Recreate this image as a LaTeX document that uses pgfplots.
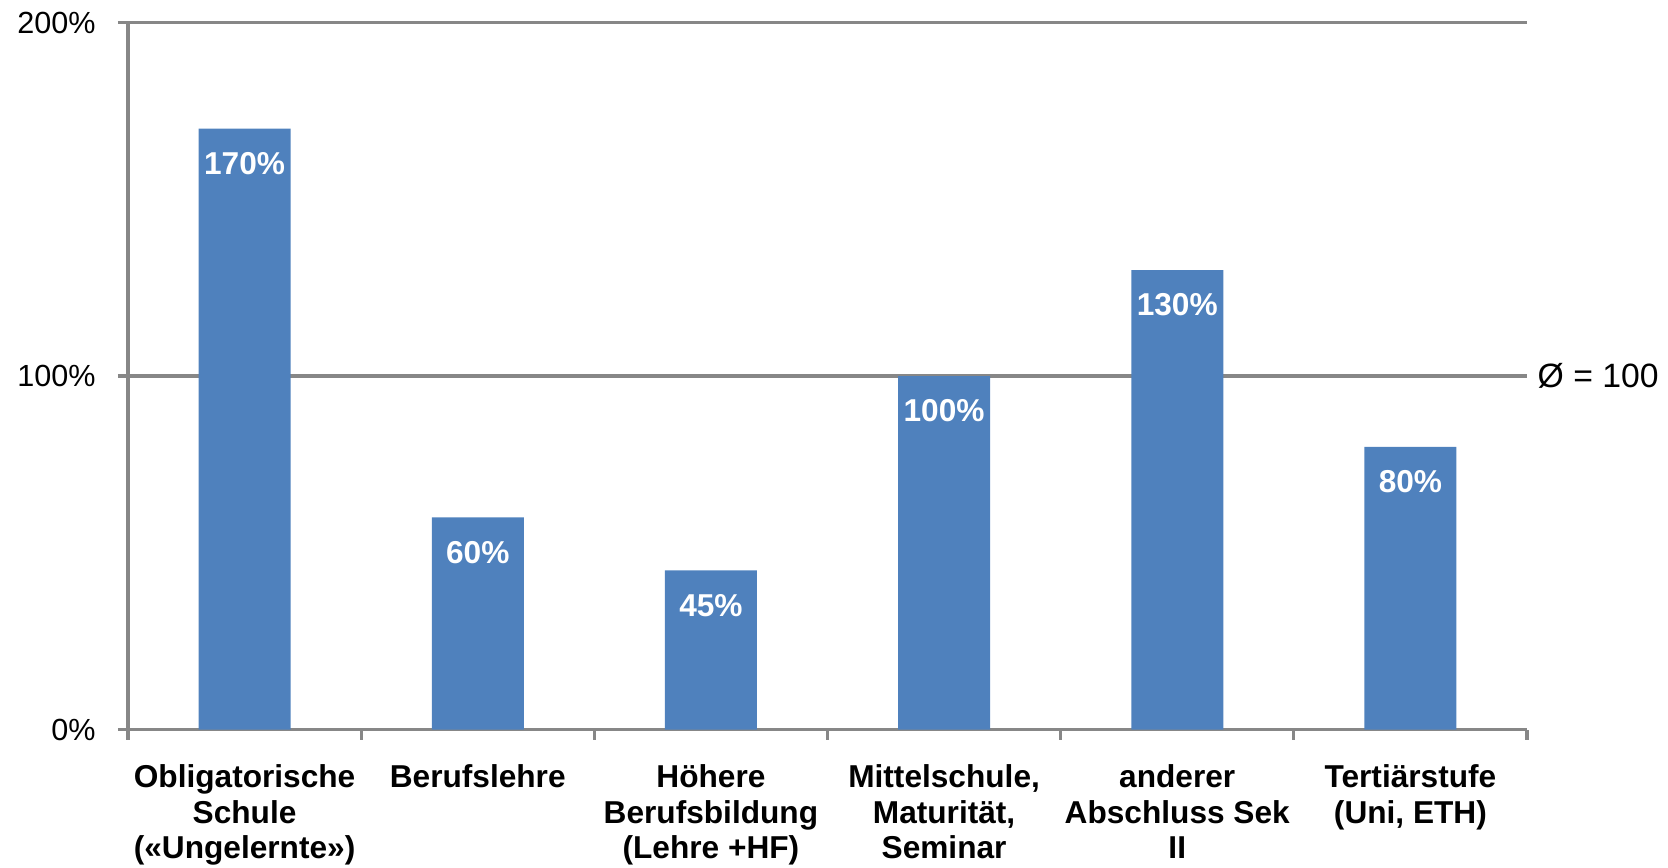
\documentclass[border=0pt]{standalone}
\usepackage{fontspec}
\setmainfont{Liberation Sans}
\usepackage{pgfplots}
\pgfplotsset{compat=1.18}
\definecolor{barblue}{HTML}{4F81BD}
\definecolor{axgray}{HTML}{878787}

\begin{document}
\begin{tikzpicture}
\begin{axis}[
    name=ax,
    scale only axis,
    width=13.99cm, height=7.07cm,
    ybar, bar width=0.92cm,
    xmin=-0.5, xmax=5.5, ymin=0, ymax=200,
    clip=false,
    axis x line*=bottom, axis y line*=left,
    axis line style={axgray, line width=0.9pt, -},
    % tick marks between the categories, names at the centres
    xtick={-0.5,0.5,...,5.5},
    xticklabels={},
    extra x ticks={0,1,2,3,4,5},
    extra x tick labels={{Obligatorische\\Schule\\(«Ungelernte»)}, Berufslehre,
        {Höhere\\Berufsbildung\\(Lehre +HF)}, {Mittelschule,\\Maturität,\\Seminar},
        {anderer\\Abschluss Sek\\II}, {Tertiärstufe\\(Uni, ETH)}},
    extra x tick style={tick style={draw=none},
        xticklabel style={inner sep=0pt, yshift=-0.245cm}},
    ytick={0,100,200},
    yticklabel={\pgfmathprintnumber{\tick}\%},
    xtick align=outside, ytick align=outside,
    major tick length=0.1cm,
    tick style={axgray, line width=0.9pt},
    ytick style={axgray, line width=0.9pt},
    ymajorgrids, grid style={axgray, line width=0.9pt},
    xticklabel style={align=center, font=\bfseries\fontsize{9}{10.1}\selectfont},
    yticklabel style={font=\fontsize{8.7}{10}\selectfont, xshift=-0.1cm,
        /pgf/number format/assume math mode=true},
    nodes near coords={\pgfmathprintnumber{\pgfplotspointmeta}\%},
    every node near coord/.append style={font=\bfseries\fontsize{9}{10}\selectfont,
        text=white, anchor=center, yshift=-0.35cm,
        /pgf/number format/assume math mode=true},
]
\addplot[fill=barblue, draw=none] coordinates {
    (0,170) (1,60) (2,45) (3,100) (4,130) (5,80)
};
\node[anchor=west, inner sep=0pt, font=\fontsize{9.6}{11}\selectfont]
    at (axis cs:5.5,100) [xshift=0.1cm] {Ø = 100};
\end{axis}
\path ([shift={(-1.28cm,-1.38cm)}]ax.south west) rectangle ([shift={(1.41cm,0.22cm)}]ax.north east);
\end{tikzpicture}
\end{document}
